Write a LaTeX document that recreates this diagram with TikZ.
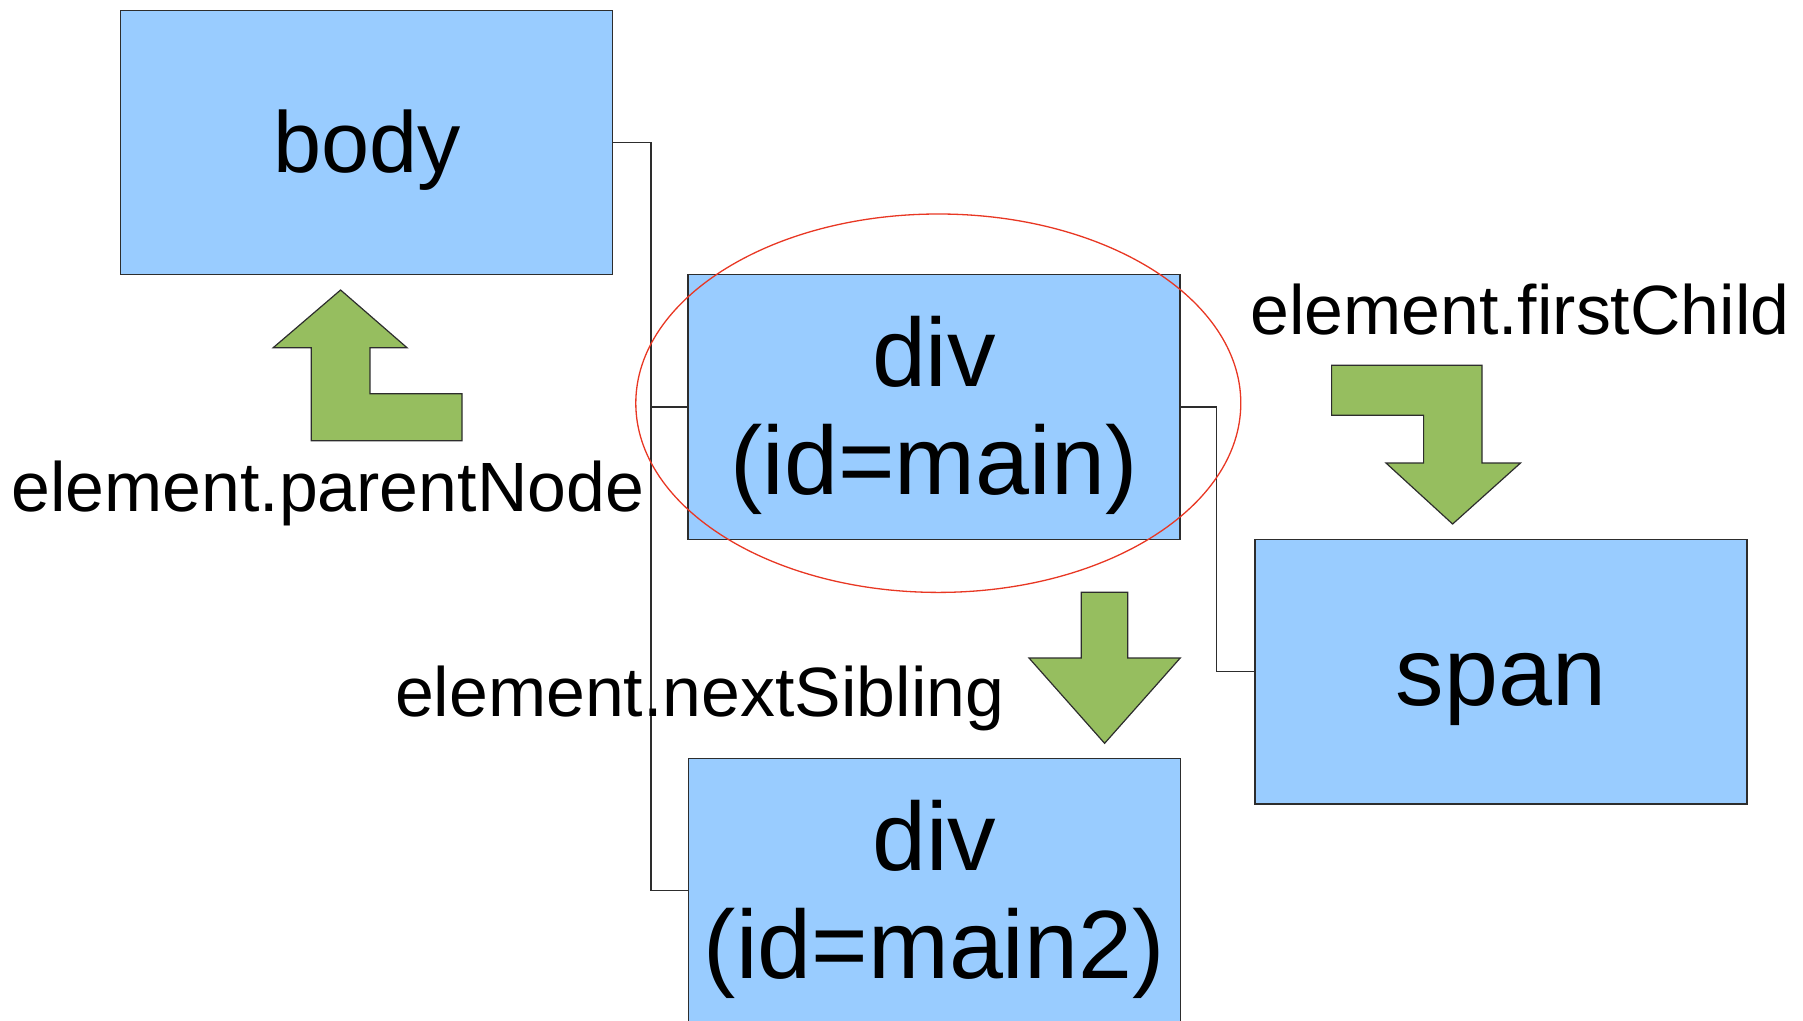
\documentclass[tikz,border=0pt]{standalone}
\usepackage{fontspec}
\setmainfont{Liberation Sans}
\definecolor{boxblue}{RGB}{153,204,255}
\definecolor{arrowgreen}{RGB}{150,190,95}
\definecolor{ringred}{RGB}{232,55,35}
\definecolor{edgegray}{RGB}{45,45,45}
\pgfdeclarelayer{back}
\pgfsetlayers{back,main}
\begin{document}
\begin{tikzpicture}[x=1pt,y=-1pt,
  domnode/.style={draw=edgegray, line width=1.3pt, fill=boxblue,
    minimum width=492pt, minimum height=264.5pt, inner sep=0pt, align=center},
  bigtext/.style={font=\fontsize{97}{108}\selectfont, text height=87.8pt, text depth=20.6pt},
  bigtwotext/.style={font=\fontsize{97}{108}\selectfont, text height=195.8pt, text depth=20.6pt},
  bodytext/.style={font=\fontsize{86.5}{97}\selectfont, text height=78.3pt, text depth=18.3pt},
  navlabel/.style={font=\fontsize{69.8}{80}\selectfont, inner sep=0pt, anchor=base},
  link/.style={draw=edgegray, line width=1.4pt},
  navarrow/.style={fill=arrowgreen, draw=edgegray, line width=1.2pt, line join=miter},
  ring/.style={draw=ringred, line width=1.3pt}]
\useasboundingbox (0,0) rectangle (1803,1020);
\clip (0,0) rectangle (1803,1020);

% boxes
\node[domnode, bodytext] (body) at (366.8,142.5) {body};
\node[domnode, bigtwotext] (divm) at (934,407) {div\\(id=main)};
\node[domnode, bigtext] (span) at (1501,671.7) {span};
\node[domnode, bigtwotext] (div2) at (934.3,890.7) {div\\(id=main2)};

% connectors (behind the boxes)
\coordinate (trunkA) at (650.8,142.5);
\coordinate (trunkB) at (1216.6,407);
\begin{pgfonlayer}{back}
\draw[link] (body.east) -- (trunkA) |- (divm.west);
\draw[link] (trunkA) |- (div2.west);
\draw[link] (divm.east) -- (trunkB) |- (span.west);
\end{pgfonlayer}

% highlight ring
\draw[ring] (938.3,403.2) ellipse [x radius=302.5, y radius=189.2];

% green arrows
\draw[navarrow] (340.6,290) -- (407,347.7) -- (369.9,347.7) -- (369.9,393.7)
  -- (462,393.7) -- (462,440.7) -- (311.2,440.7) -- (311.2,347.7) -- (273.2,347.7) -- cycle;
\draw[navarrow] (1331.6,365.3) -- (1482,365.3) -- (1482,463) -- (1520.5,463)
  -- (1452.6,524) -- (1386,463) -- (1423.6,463) -- (1423.6,415.3) -- (1331.6,415.3) -- cycle;
\draw[navarrow] (1081.3,592.3) -- (1127.8,592.3) -- (1127.8,658) -- (1180.2,658)
  -- (1104.6,743.3) -- (1029,658) -- (1081.3,658) -- cycle;

% labels
\node[navlabel] (lparent) at (327.7,511.7) {element.parentNode};
\node[navlabel] (lfirst) at (1519.8,334) {element.firstChild};
\node[navlabel] (lnext) at (699.7,716) {element.nextSibling};
\end{tikzpicture}
\end{document}
